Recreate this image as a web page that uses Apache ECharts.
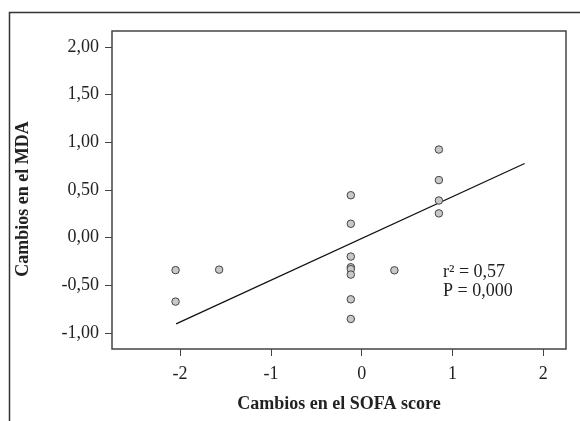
<!DOCTYPE html>
<html>
<head>
<meta charset="utf-8">
<script src="https://cdn.jsdelivr.net/npm/echarts@6/dist/echarts.min.js"></script>
<style>
html,body{margin:0;padding:0;background:#fff;}
#c{width:580px;height:421px;}
</style>
</head>
<body>
<div id="c"></div>
<script>
// Data
var sofaChange = [-2.05, -2.05, -1.57, -0.12, -0.12, -0.12, -0.12, -0.12, -0.12, -0.12, -0.12, 0.36, 0.85, 0.85, 0.85, 0.85];
var mdaChange  = [-0.34, -0.67, -0.335, 0.445, 0.146, -0.198, -0.31, -0.33, -0.387, -0.646, -0.852, -0.342, 0.924, 0.604, 0.39, 0.255];
var fitX = [-2.044, 1.794];
var fitY = [-0.904, 0.778];
var xTicks = [-2, -1, 0, 1, 2];
var yTicks = [-1, -0.5, 0, 0.5, 1, 1.5, 2];
var statsLines = ['r\u00B2 = 0,57', 'P = 0,000'];
var xName = 'Cambios en el SOFA score';
var yName = 'Cambios en el MDA';

var serif = "'Liberation Serif', 'Times New Roman', serif";
var chart = echarts.init(document.getElementById('c'), null, {renderer: 'canvas'});

var points = sofaChange.map(function (x, i) { return [x, mdaChange[i]]; });
var fit = fitX.map(function (x, i) { return [x, fitY[i]]; });

chart.setOption({
  animation: false,
  backgroundColor: '#fff',
  grid: {
    left: 112, top: 31, right: 14, bottom: 72,
    show: true, borderColor: '#444', borderWidth: 1.5, backgroundColor: 'transparent'
  },
  xAxis: {
    type: 'value', min: -2.75, max: 2.25,
    name: xName, nameLocation: 'middle', nameGap: 46,
    nameTextStyle: {fontFamily: serif, fontWeight: 'bold', fontSize: 18, color: '#222'},
    axisLine: {show: false, onZero: false},
    splitLine: {show: false},
    axisTick: {show: true, length: 7, customValues: xTicks, lineStyle: {color: '#444', width: 1}},
    axisLabel: {customValues: xTicks, fontFamily: serif, fontSize: 18, color: '#222', margin: 16}
  },
  yAxis: {
    type: 'value', min: -1.167, max: 2.167,
    name: yName, nameLocation: 'middle', nameGap: 80, nameRotate: 90,
    nameTextStyle: {fontFamily: serif, fontWeight: 'bold', fontSize: 18, color: '#222', padding: [0, 0, 0, -18]},
    axisLine: {show: false, onZero: false},
    splitLine: {show: false},
    axisTick: {show: true, length: 7, customValues: yTicks, lineStyle: {color: '#444', width: 1}},
    axisLabel: {
      customValues: yTicks, fontFamily: serif, fontSize: 18, color: '#222', margin: 13,
      formatter: function (v) { return v.toFixed(2).replace('.', ','); }
    }
  },
  series: [
    {
      type: 'line', data: fit, symbol: 'none', silent: true,
      lineStyle: {color: '#111', width: 1.3}, z: 2
    },
    {
      type: 'scatter', data: points, symbol: 'circle', symbolSize: 7.5,
      itemStyle: {color: '#c8c8c8', borderColor: '#444', borderWidth: 1, opacity: 1}, z: 3
    }
  ],
  graphic: [
    {
      type: 'rect', left: 7, top: 10, silent: true,
      shape: {width: 600, height: 450},
      style: {fill: 'none', stroke: '#333', lineWidth: 1.5}
    },
    {
      type: 'text', left: 443, top: 263, silent: true,
      style: {text: statsLines[0], font: '18px ' + serif, fill: '#222'}
    },
    {
      type: 'text', left: 443, top: 282, silent: true,
      style: {text: statsLines[1], font: '18px ' + serif, fill: '#222'}
    }
  ]
});
</script>
</body>
</html>
